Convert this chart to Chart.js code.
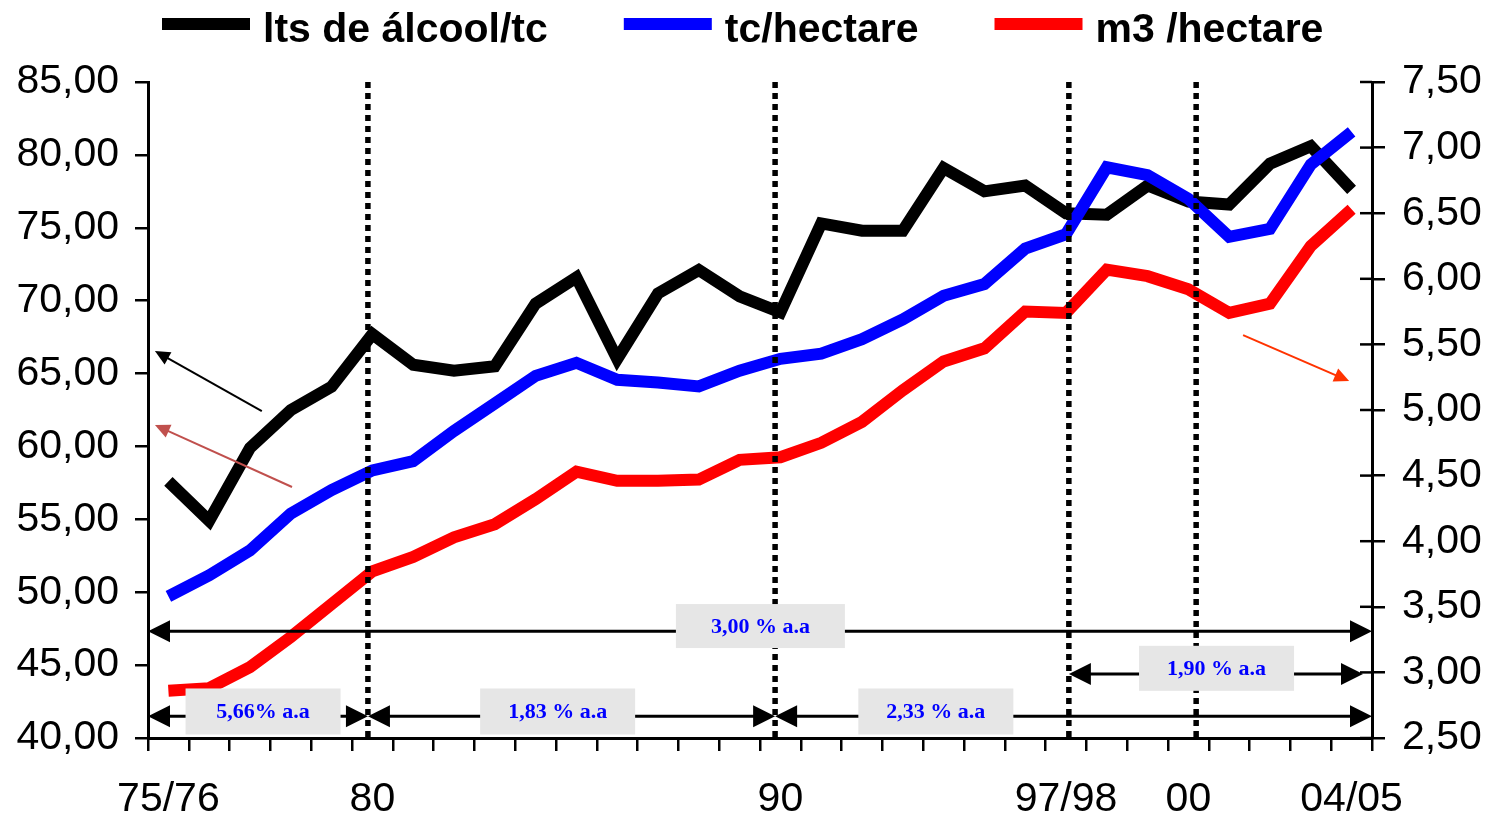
<!DOCTYPE html>
<html>
<head>
<meta charset="utf-8">
<script src="https://cdn.jsdelivr.net/npm/chart.js@4.4.1/dist/chart.umd.min.js"></script>
<style>
  html, body { margin: 0; padding: 0; background: #fff; }
  #wrap { width: 1496px; height: 818px; }
</style>
</head>
<body>
<div id="wrap"><canvas id="chart"></canvas></div>
<script>
const seasons = ['75/76','76/77','77/78','78/79','79/80','80/81','81/82','82/83','83/84','84/85',
                 '85/86','86/87','87/88','88/89','89/90','90/91','91/92','92/93','93/94','94/95',
                 '95/96','96/97','97/98','98/99','99/00','00/01','01/02','02/03','03/04','04/05'];
const tickLabels = ['75/76','','','','','80','','','','','','','','','','90','','','','','','','97/98','','','00','','','','04/05'];

const alcoolPerTc  = [57.6, 54.9, 59.9, 62.5, 64.1, 67.7, 65.6, 65.2, 65.5, 69.8,
                      71.6, 66.0, 70.5, 72.1, 70.3, 69.2, 75.3, 74.8, 74.8, 79.1,
                      77.5, 77.9, 76.0, 75.9, 77.9, 76.8, 76.6, 79.4, 80.6, 77.6];
const tcPerHectare = [3.58, 3.74, 3.93, 4.21, 4.39, 4.54, 4.61, 4.84, 5.05, 5.26,
                      5.36, 5.23, 5.21, 5.18, 5.30, 5.39, 5.43, 5.54, 5.69, 5.87,
                      5.96, 6.23, 6.34, 6.85, 6.79, 6.61, 6.32, 6.38, 6.87, 7.12];
const m3PerHectare = [2.86, 2.88, 3.04, 3.27, 3.52, 3.77, 3.88, 4.03, 4.13, 4.32,
                      4.53, 4.46, 4.46, 4.47, 4.62, 4.64, 4.75, 4.91, 5.15, 5.37,
                      5.47, 5.75, 5.74, 6.07, 6.02, 5.92, 5.74, 5.81, 6.25, 6.53];
const seriesNames  = ['lts de álcool/tc', 'tc/hectare', 'm3 /hectare'];
const growthLabels = ['3,00 % a.a', '5,66% a.a', '1,83 % a.a', '2,33 % a.a', '1,90 % a.a'];

const fmt = v => v.toFixed(2).replace('.', ',');
const FONT = '"Liberation Sans", Arial, sans-serif';

// period separators (category position) and growth-rate arrows
const dividers = [4.89, 14.87, 22.07, 25.19];
const spans = [
  { from: -0.5,  to: 29.5,  y: 47.33, text: 0, bx: 14.51, by: 47.68, w: 169, h: 44 },
  { from: -0.5,  to: 4.89,  y: 41.5,  text: 1, bx: 2.32,  by: 41.82, w: 155, h: 46 },
  { from: 4.89,  to: 14.87, y: 41.5,  text: 2, bx: 9.54,  by: 41.82, w: 155, h: 46 },
  { from: 14.87, to: 29.5,  y: 41.5,  text: 3, bx: 18.81, by: 41.82, w: 155, h: 46 },
  { from: 22.07, to: 29.28, y: 44.39, text: 4, bx: 25.69, by: 44.78, w: 155, h: 45 }
];
const pointers = [
  { x0: 2.29,  y0: 62.43, x1: -0.33, y1: 66.55, color: '#000000' },
  { x0: 3.03,  y0: 57.22, x1: -0.33, y1: 61.47, color: '#c0504d' },
  { x0: 26.34, y0: 67.64, x1: 28.94, y1: 64.49, color: '#ff3300' }
];

function head(ctx, x, y, ang, len, half) {
  ctx.save();
  ctx.translate(x, y);
  ctx.rotate(ang);
  ctx.beginPath();
  ctx.moveTo(0, 0);
  ctx.lineTo(-len, -half);
  ctx.lineTo(-len, half);
  ctx.closePath();
  ctx.fill();
  ctx.restore();
}

const decorations = {
  id: 'decorations',
  afterDatasetsDraw(chart) {
    const { ctx, chartArea, scales } = chart;
    const xs = scales.x, ys = scales.y, yr = scales.y1;
    ctx.save();

    // inner ticks on the right axis
    ctx.strokeStyle = '#000';
    ctx.lineWidth = 2.5;
    yr.ticks.forEach(t => {
      const py = yr.getPixelForValue(t.value);
      ctx.beginPath();
      ctx.moveTo(yr.left - 12, py);
      ctx.lineTo(yr.left, py);
      ctx.stroke();
    });

    // dotted dividers
    ctx.lineWidth = 5.5;
    ctx.setLineDash([6, 5]);
    dividers.forEach(d => {
      const px = xs.getPixelForValue(d);
      ctx.beginPath();
      ctx.moveTo(px, chartArea.top);
      ctx.lineTo(px, chartArea.bottom);
      ctx.stroke();
    });
    ctx.setLineDash([]);

    // horizontal growth arrows
    ctx.fillStyle = '#000';
    ctx.lineWidth = 3;
    spans.forEach(s => {
      const x0 = xs.getPixelForValue(s.from), x1 = xs.getPixelForValue(s.to);
      const py = ys.getPixelForValue(s.y);
      ctx.beginPath();
      ctx.moveTo(x0 + 10, py);
      ctx.lineTo(x1 - 10, py);
      ctx.stroke();
      head(ctx, x0, py, Math.PI, 22, 11);
      head(ctx, x1, py, 0, 22, 11);
    });

    // label boxes
    spans.forEach(s => {
      const cx = xs.getPixelForValue(s.bx), cy = ys.getPixelForValue(s.by);
      ctx.fillStyle = '#e6e6e6';
      ctx.fillRect(cx - s.w / 2, cy - s.h / 2, s.w, s.h);
      ctx.fillStyle = '#0000ff';
      ctx.font = 'bold 22px "Liberation Serif", "Times New Roman", serif';
      ctx.textAlign = 'center';
      ctx.textBaseline = 'middle';
      ctx.fillText(growthLabels[s.text], cx, cy + 1);
    });

    // pointers to the axes
    pointers.forEach(p => {
      const ax = xs.getPixelForValue(p.x0), ay = ys.getPixelForValue(p.y0);
      const bx = xs.getPixelForValue(p.x1), by = ys.getPixelForValue(p.y1);
      const ang = Math.atan2(by - ay, bx - ax);
      ctx.strokeStyle = p.color;
      ctx.fillStyle = p.color;
      ctx.lineWidth = 2;
      ctx.beginPath();
      ctx.moveTo(ax, ay);
      ctx.lineTo(bx - Math.cos(ang) * 8, by - Math.sin(ang) * 8);
      ctx.stroke();
      head(ctx, bx, by, ang, 15, 7);
    });

    ctx.restore();
  },
  afterDraw(chart) {
    // legend across the top
    const ctx = chart.ctx;
    ctx.save();
    ctx.font = 'bold 41px ' + FONT;
    ctx.textBaseline = 'alphabetic';
    ctx.textAlign = 'left';
    let x = 162;
    chart.data.datasets.forEach(ds => {
      ctx.fillStyle = ds.borderColor;
      ctx.fillRect(x, 18, 88, 12);
      x += 88 + 13;
      ctx.fillStyle = '#000';
      ctx.fillText(ds.label, x, 42);
      x += ctx.measureText(ds.label).width + 76;
    });
    ctx.restore();
  }
};

const tickFont = { family: FONT, size: 41 };

new Chart(document.getElementById('chart'), {
  type: 'line',
  data: {
    labels: seasons,
    datasets: [
      { label: seriesNames[0], data: alcoolPerTc,  borderColor: '#000000', yAxisID: 'y',  order: 2 },
      { label: seriesNames[1], data: tcPerHectare, borderColor: '#0000ff', yAxisID: 'y1', order: 1 },
      { label: seriesNames[2], data: m3PerHectare, borderColor: '#ff0000', yAxisID: 'y1', order: 3 }
    ].map(d => Object.assign(d, { borderWidth: 12, pointRadius: 0, tension: 0, fill: false }))
  },
  options: {
    responsive: true,
    maintainAspectRatio: false,
    animation: false,
    events: [],
    layout: { padding: { top: 82, left: 0, right: 0, bottom: 0 } },
    plugins: { legend: { display: false }, tooltip: { enabled: false } },
    scales: {
      x: {
        offset: true,
        grid: { offset: true, drawOnChartArea: false, tickLength: 13, color: '#000', lineWidth: 2.5 },
        border: { color: '#000', width: 3 },
        ticks: {
          autoSkip: false, maxRotation: 0, color: '#000', font: tickFont, padding: 24,
          callback: (v, i) => tickLabels[i]
        },
        afterFit: s => { s.height = 80; }
      },
      y: {
        position: 'left',
        min: 40, max: 85,
        grid: { drawOnChartArea: false, tickLength: 13, color: '#000', lineWidth: 2.5 },
        border: { color: '#000', width: 3 },
        ticks: { stepSize: 5, color: '#000', font: tickFont, padding: 16, callback: v => fmt(v) },
        afterFit: s => { s.width = 148; }
      },
      y1: {
        position: 'right',
        min: 2.5, max: 7.5,
        grid: { drawOnChartArea: false, tickLength: 13, color: '#000', lineWidth: 2.5 },
        border: { color: '#000', width: 3 },
        ticks: { stepSize: 0.5, color: '#000', font: tickFont, padding: 17, callback: v => fmt(v) },
        afterFit: s => { s.width = 124; }
      }
    }
  },
  plugins: [decorations]
});
</script>
</body>
</html>
